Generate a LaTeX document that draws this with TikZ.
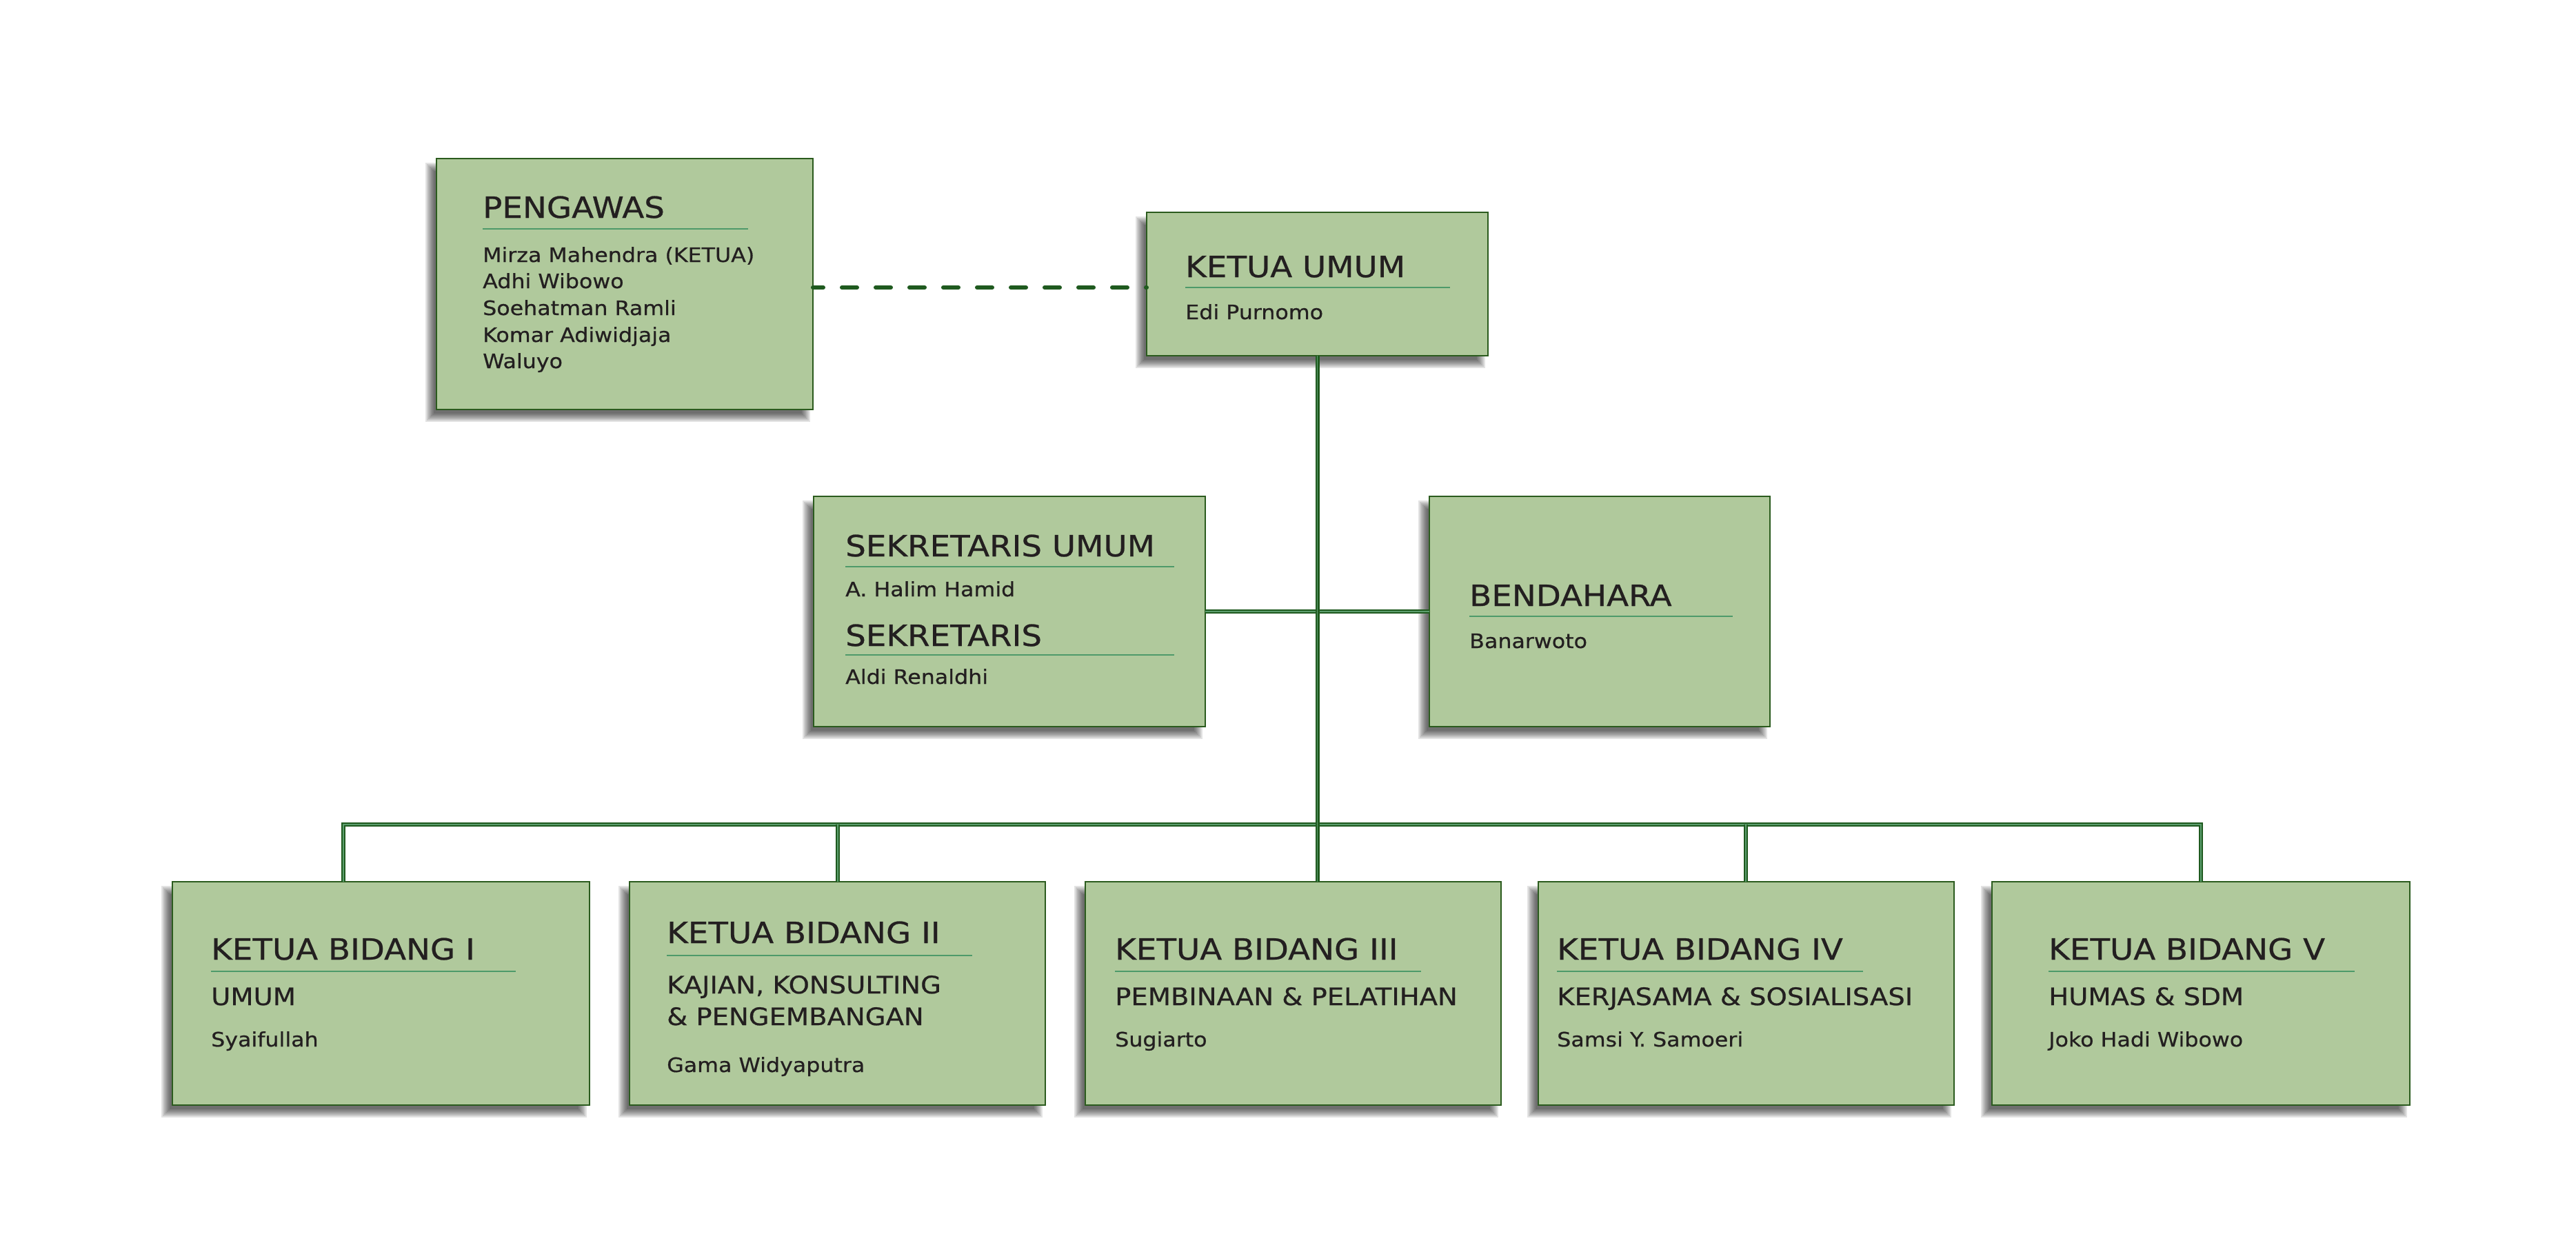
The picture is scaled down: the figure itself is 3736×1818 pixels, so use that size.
\documentclass[tikz,border=0pt]{standalone}
\usepackage{fontspec}
\setmainfont{DejaVu Sans}[FakeStretch=1.1, FakeBold=0.6]
\usetikzlibrary{backgrounds}
\definecolor{boxfill}{HTML}{B0C99C}
\definecolor{boxline}{HTML}{2B5B1E}
\definecolor{rulecol}{HTML}{4E9A6A}
\definecolor{conn}{HTML}{1F5A1F}
\definecolor{conninner}{HTML}{5C9E6E}
\definecolor{txtcol}{HTML}{231F20}
\tikzset{
  orgbox/.style={draw=boxline, fill=boxfill, line width=2.5pt, inner sep=0pt, outer sep=0pt, anchor=north west, rectangle},
  titletxt/.style={text=txtcol, inner sep=0pt, anchor=base west, font=\fontsize{42.5}{50}\selectfont},
  subtxt/.style={text=txtcol, inner sep=0pt, anchor=base west, font=\fontsize{35}{44}\selectfont},
  nametxt/.style={text=txtcol, inner sep=0pt, anchor=base west, font=\fontsize{28.8}{38}\selectfont},
  rulestyle/.style={draw=rulecol, line width=2.5pt},
  connline/.style={draw=conn, double=conninner, double distance=1.4pt, line width=2.3pt},
  conndash/.style={draw=conn, line width=6pt, line cap=round, dash pattern=on 22pt off 27pt, dash phase=7pt},
  connshadow/.style={draw=black, opacity=0.1, line width=12pt, transform canvas={xshift=-11pt, yshift=-10pt}},
  connshadowdash/.style={draw=black, opacity=0.12, line width=10pt, line cap=round, dash pattern=on 22pt off 27pt, dash phase=7pt, transform canvas={xshift=-11pt, yshift=-9pt}}
}
% #1 name, #2 x, #3 y, #4 width, #5 height
\newcommand\mkorgbox[5]{%
  \foreach \k in {-6,-4,...,6}{%
    \fill[black, opacity=0.11] (#2-10+\k, #3+12+\k) rectangle (#2+#4-10-\k, #3+#5+12-\k);
  }
  \node[orgbox, minimum width=#4pt, minimum height=#5pt] (#1) at (#2,#3) {};
}
\begin{document}
\begin{tikzpicture}[x=1pt, y=-1pt]
\useasboundingbox[fill=white] (0,0) rectangle (3736,1818);

% boxes
\mkorgbox{peng}{633}{230}{546}{364}
\mkorgbox{ku}{1663}{308}{495}{208}
\mkorgbox{sek}{1180}{720}{568}{334}
\mkorgbox{ben}{2073}{720}{494}{334}
\mkorgbox{b1}{250}{1279}{605}{324}
\mkorgbox{b2}{913}{1279}{603}{324}
\mkorgbox{b3}{1574}{1279}{603}{324}
\mkorgbox{b4}{2231}{1279}{603}{324}
\mkorgbox{b5}{2889}{1279}{606}{324}

% PENGAWAS
\node[titletxt] (pengT) at (700,316) {PENGAWAS};
\draw[rulestyle] (700,332) -- (1085,332);
\node[nametxt] (pengN1) at (700,380) {Mirza Mahendra (KETUA)};
\node[nametxt] (pengN2) at (700,418) {Adhi Wibowo};
\node[nametxt] (pengN3) at (700,457) {Soehatman Ramli};
\node[nametxt] (pengN4) at (700,496) {Komar Adiwidjaja};
\node[nametxt] (pengN5) at (700,534) {Waluyo};

% KETUA UMUM
\node[titletxt] (kuT) at (1719,402) {KETUA UMUM};
\draw[rulestyle] (1719,417) -- (2103,417);
\node[nametxt] (kuN) at (1719,463) {Edi Purnomo};

% SEKRETARIS
\node[titletxt] (sekT) at (1226,807) {SEKRETARIS UMUM};
\draw[rulestyle] (1226,822) -- (1703,822);
\node[nametxt] (sekN) at (1226,865) {A. Halim Hamid};
\node[titletxt] (sek2T) at (1226,937) {SEKRETARIS};
\draw[rulestyle] (1226,950) -- (1703,950);
\node[nametxt] (sek2N) at (1226,992) {Aldi Renaldhi};

% BENDAHARA
\node[titletxt] (benT) at (2131,879) {BENDAHARA};
\draw[rulestyle] (2131,894) -- (2513,894);
\node[nametxt] (benN) at (2131,940) {Banarwoto};

% BIDANG I
\node[titletxt] (b1T) at (306,1392) {KETUA BIDANG I};
\draw[rulestyle] (306,1409) -- (748,1409);
\node[subtxt] (b1S) at (306,1458) {UMUM};
\node[nametxt] (b1N) at (306,1518) {Syaifullah};

% BIDANG II
\node[titletxt] (b2T) at (967,1368) {KETUA BIDANG II};
\draw[rulestyle] (967,1386) -- (1410,1386);
\node[subtxt] (b2S1) at (967,1441) {KAJIAN, KONSULTING};
\node[subtxt] (b2S2) at (967,1487) {\& PENGEMBANGAN};
\node[nametxt] (b2N) at (967,1555) {Gama Widyaputra};

% BIDANG III
\node[titletxt] (b3T) at (1617,1392) {KETUA BIDANG III};
\draw[rulestyle] (1617,1409) -- (2061,1409);
\node[subtxt] (b3S) at (1617,1458) {PEMBINAAN \& PELATIHAN};
\node[nametxt] (b3N) at (1617,1518) {Sugiarto};

% BIDANG IV
\node[titletxt] (b4T) at (2258,1392) {KETUA BIDANG IV};
\draw[rulestyle] (2258,1409) -- (2702,1409);
\node[subtxt] (b4S) at (2258,1458) {KERJASAMA \& SOSIALISASI};
\node[nametxt] (b4N) at (2258,1518) {Samsi Y. Samoeri};

% BIDANG V
\node[titletxt] (b5T) at (2971,1392) {KETUA BIDANG V};
\draw[rulestyle] (2971,1409) -- (3415,1409);
\node[subtxt] (b5S) at (2971,1458) {HUMAS \& SDM};
\node[nametxt] (b5N) at (2971,1518) {Joko Hadi Wibowo};

% connector helper coordinates
\coordinate (d1) at (498,1279);
\coordinate (d2) at (1215,1279);
\coordinate (d4) at (2532,1279);
\coordinate (d5) at (3192,1279);
\coordinate (busy) at (0,1196);
\coordinate (dashy) at (0,417);

% connector shadows
\begin{scope}[on background layer]
  \draw[connshadowdash] (peng.east |- dashy) -- (ku.west |- dashy);
  \draw[connshadow] (ku.south) -- (ku.south |- b3.north);
  \draw[connshadow] (sek.east) -- (ben.west);
  \draw[connshadow] (d1) -- (d1 |- busy) -- (d5 |- busy) -- (d5);
  \draw[connshadow] (d2 |- busy) -- (d2);
  \draw[connshadow] (d4 |- busy) -- (d4);
\end{scope}

% connectors
\draw[conndash] (peng.east |- dashy) -- (ku.west |- dashy);
\draw[connline] (d1) -- (d1 |- busy) -- (d5 |- busy) -- (d5);
\draw[connline] (d2 |- busy) -- (d2);
\draw[connline] (d4 |- busy) -- (d4);
\draw[connline] (sek.east) -- (ben.west);
\draw[connline] (ku.south) -- (ku.south |- b3.north);
\end{tikzpicture}
\end{document}
